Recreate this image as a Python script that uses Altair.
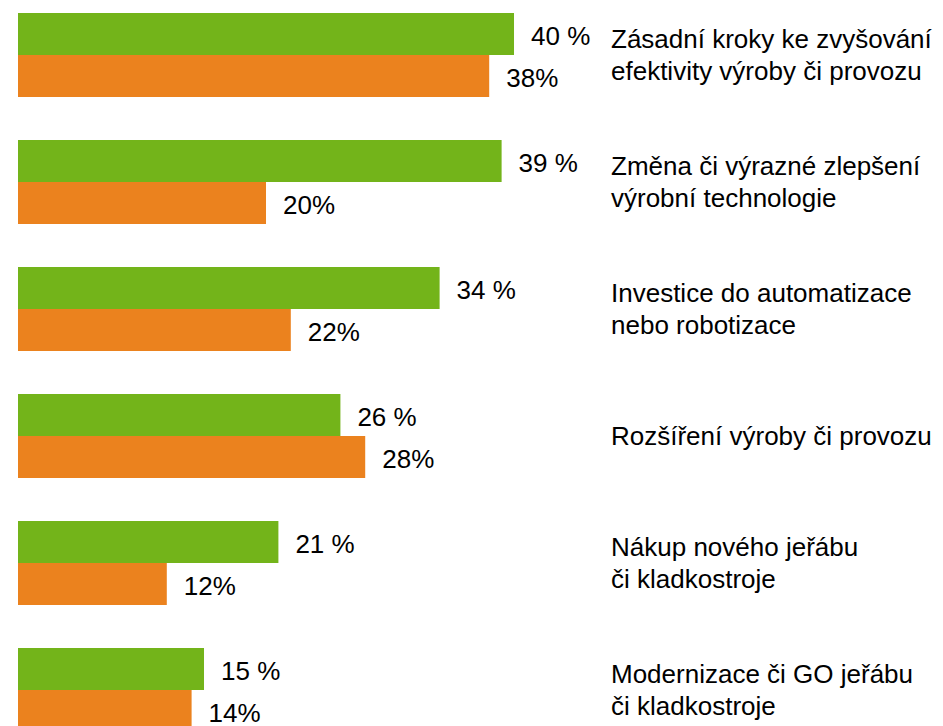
import altair as alt
import pandas as pd

categories = [
    "Zásadní kroky ke zvyšování\nefektivity výroby či provozu",
    "Změna či výrazné zlepšení\nvýrobní technologie",
    "Investice do automatizace\nnebo robotizace",
    "Rozšíření výroby či provozu",
    "Nákup nového jeřábu\nči kladkostroje",
    "Modernizace či GO jeřábu\nči kladkostroje",
]
series = ["A", "B"]
green_values = [40, 39, 34, 26, 21, 15]
orange_values = [38, 20, 22, 28, 12, 14]
green_labels = ["40 %", "39 %", "34 %", "26 %", "21 %", "15 %"]
orange_labels = ["38%", "20%", "22%", "28%", "12%", "14%"]
colors = ["#73B41A", "#EB821E"]

rows = []
for i, c in enumerate(categories):
    rows.append({"cat": c, "series": "A", "value": green_values[i], "label": green_labels[i]})
    rows.append({"cat": c, "series": "B", "value": orange_values[i], "label": orange_labels[i]})
df = pd.DataFrame(rows)
cat_df = pd.DataFrame({"cat": categories, "lines": [c.count("\n") + 1 for c in categories]})

FONT = "Liberation Sans"
FS = 26

y_scale = alt.Scale(paddingInner=0.3386, paddingOuter=0.0394)
y_enc = alt.Y("cat:N", sort=categories, axis=None, scale=y_scale)
yoff = alt.YOffset("series:N", sort=series, scale=alt.Scale(paddingInner=0, paddingOuter=0))
x_enc = alt.X("value:Q", axis=None, scale=alt.Scale(domain=[0, 73.95], nice=False))

bars = alt.Chart(df).mark_bar(cornerRadius=0).encode(
    y=y_enc, yOffset=yoff, x=x_enc,
    color=alt.Color("series:N", scale=alt.Scale(domain=series, range=colors), legend=None),
)

labels = alt.Chart(df).mark_text(
    align="left", baseline="middle", dx=17, dy=3, fontSize=FS, font=FONT, color="#000000"
).encode(y=y_enc, yOffset=yoff, x=x_enc, text="label:N")

cats2 = alt.Chart(cat_df).transform_filter("datum.lines == 2").mark_text(
    align="left", baseline="middle", fontSize=FS, font=FONT, color="#000000",
    lineBreak="\n", lineHeight=32, dy=-15
).encode(y=alt.Y("cat:N", sort=categories, axis=None, scale=y_scale),
         x=alt.value(593), text="cat:N")

cats1 = alt.Chart(cat_df).transform_filter("datum.lines == 1").mark_text(
    align="left", baseline="middle", fontSize=FS, font=FONT, color="#000000", dy=1
).encode(y=alt.Y("cat:N", sort=categories, axis=None, scale=y_scale),
         x=alt.value(593), text="cat:N")

chart = alt.layer(bars, labels, cats2, cats1).properties(
    width=917, height=729,
    padding={"left": 10, "top": 0, "right": 0, "bottom": 0},
    autosize=alt.AutoSizeParams(type="none"),
).configure_view(stroke=None)

chart.save("out.html", embed_options={"renderer": "svg", "actions": False})
